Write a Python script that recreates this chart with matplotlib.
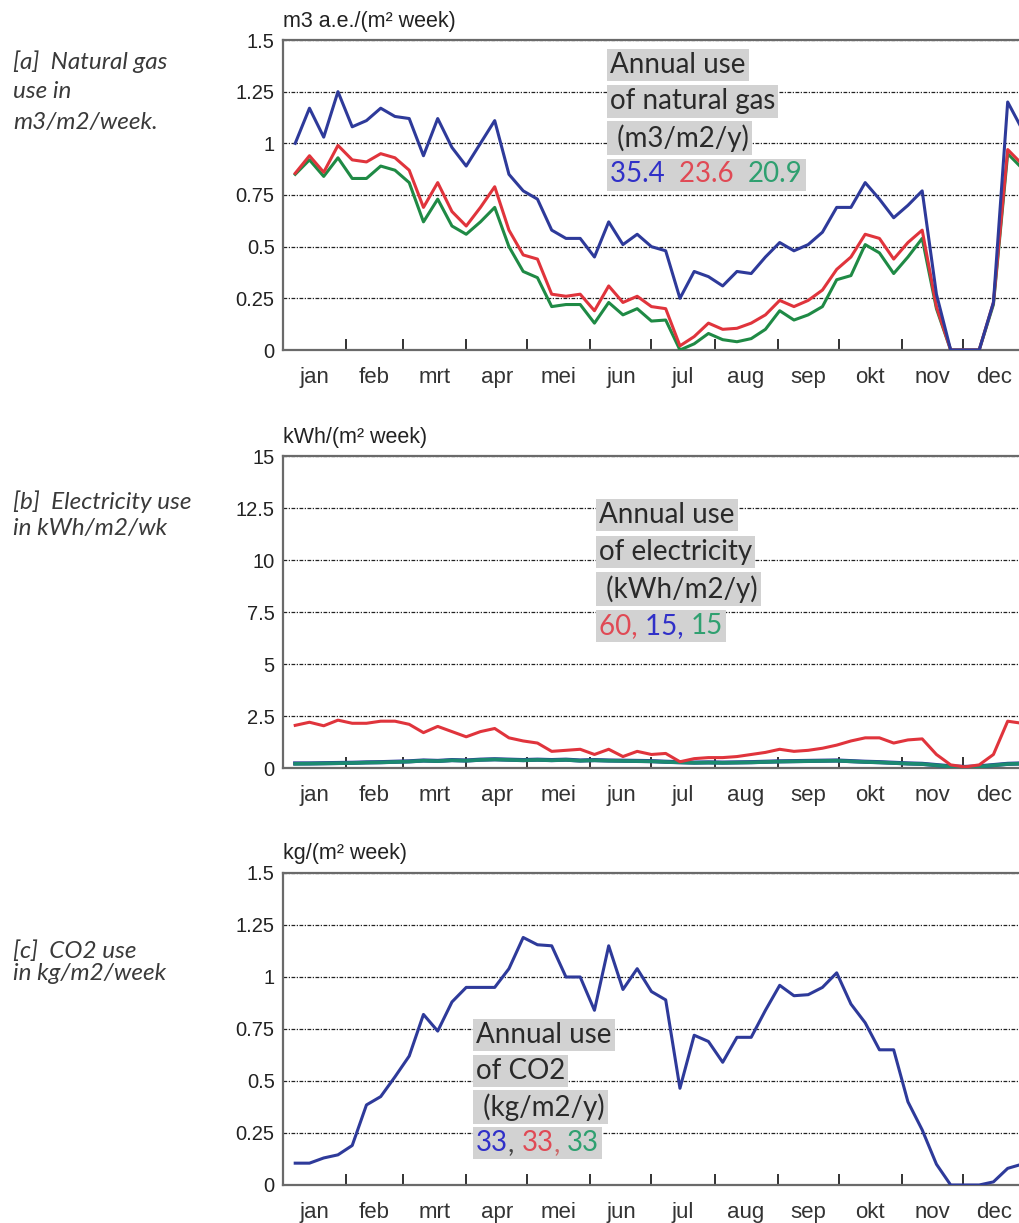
import numpy as np
import matplotlib
matplotlib.use('Agg')
import matplotlib.pyplot as plt
from matplotlib import font_manager
from matplotlib.patches import Rectangle
from matplotlib.transforms import IdentityTransform
from matplotlib.ticker import FuncFormatter

# ---- data ----
weeks = np.arange(1, 53)
months = ['jan', 'feb', 'mrt', 'apr', 'mei', 'jun', 'jul', 'aug', 'sep', 'okt', 'nov', 'dec']
month_len = [31, 28, 31, 30, 31, 30, 31, 31, 30, 31, 30, 31]

gas_blue = [1.00, 1.17, 1.03, 1.25, 1.08, 1.11, 1.17, 1.13, 1.12, 0.94,
            1.12, 0.98, 0.89, 1.00, 1.11, 0.85, 0.77, 0.73, 0.58, 0.54,
            0.54, 0.45, 0.62, 0.51, 0.56, 0.50, 0.48, 0.25, 0.38, 0.355,
            0.31, 0.38, 0.37, 0.45, 0.52, 0.48, 0.51, 0.57, 0.69, 0.69,
            0.81, 0.73, 0.64, 0.70, 0.77, 0.27, 0.0, 0.0, 0.0, 0.23,
            1.20, 1.07]
gas_red = [0.855, 0.94, 0.86, 0.99, 0.92, 0.91, 0.95, 0.93, 0.87, 0.69,
           0.81, 0.67, 0.60, 0.69, 0.79, 0.58, 0.46, 0.44, 0.27, 0.26,
           0.27, 0.19, 0.31, 0.23, 0.26, 0.21, 0.20, 0.02, 0.065, 0.13,
           0.10, 0.105, 0.13, 0.17, 0.24, 0.21, 0.24, 0.29, 0.39, 0.45,
           0.56, 0.54, 0.44, 0.52, 0.58, 0.21, 0.0, 0.0, 0.0, 0.23,
           0.97, 0.90]
gas_green = [0.85, 0.92, 0.84, 0.93, 0.83, 0.83, 0.89, 0.87, 0.81, 0.62,
             0.73, 0.60, 0.56, 0.62, 0.69, 0.50, 0.38, 0.35, 0.21, 0.22,
             0.22, 0.13, 0.23, 0.17, 0.20, 0.14, 0.145, 0.0, 0.03, 0.08,
             0.05, 0.04, 0.055, 0.10, 0.19, 0.145, 0.17, 0.21, 0.34, 0.36,
             0.51, 0.47, 0.37, 0.45, 0.54, 0.20, 0.0, 0.0, 0.0, 0.22,
             0.95, 0.88]

elec_red = [2.05, 2.20, 2.03, 2.30, 2.15, 2.15, 2.25, 2.25, 2.10, 1.70,
            2.00, 1.75, 1.50, 1.75, 1.90, 1.45, 1.30, 1.20, 0.80, 0.85,
            0.90, 0.65, 0.90, 0.55, 0.80, 0.65, 0.70, 0.30, 0.45, 0.50,
            0.50, 0.55, 0.65, 0.75, 0.90, 0.80, 0.85, 0.95, 1.10, 1.30,
            1.45, 1.45, 1.20, 1.35, 1.40, 0.65, 0.15, 0.05, 0.15, 0.65,
            2.25, 2.15]
elec_blue = [0.22, 0.22, 0.23, 0.24, 0.25, 0.27, 0.28, 0.30, 0.32, 0.36,
             0.34, 0.38, 0.36, 0.40, 0.42, 0.40, 0.38, 0.40, 0.38, 0.40,
             0.36, 0.38, 0.36, 0.35, 0.34, 0.33, 0.30, 0.28, 0.26, 0.27,
             0.26, 0.27, 0.28, 0.30, 0.32, 0.33, 0.34, 0.35, 0.36, 0.33,
             0.30, 0.28, 0.25, 0.22, 0.20, 0.14, 0.08, 0.05, 0.08, 0.14,
             0.20, 0.22]
elec_green = [0.20, 0.21, 0.22, 0.23, 0.24, 0.26, 0.27, 0.29, 0.31, 0.35,
              0.33, 0.37, 0.35, 0.39, 0.41, 0.39, 0.37, 0.39, 0.37, 0.39,
              0.35, 0.37, 0.35, 0.34, 0.33, 0.32, 0.29, 0.27, 0.25, 0.26,
              0.25, 0.26, 0.27, 0.29, 0.31, 0.32, 0.33, 0.34, 0.35, 0.32,
              0.29, 0.27, 0.24, 0.21, 0.19, 0.13, 0.07, 0.04, 0.07, 0.13,
              0.19, 0.21]

co2_blue = [0.105, 0.105, 0.13, 0.145, 0.19, 0.385, 0.425, 0.52, 0.62, 0.82,
            0.74, 0.88, 0.95, 0.95, 0.95, 1.04, 1.19, 1.155, 1.15, 1.00,
            1.00, 0.84, 1.15, 0.94, 1.04, 0.93, 0.89, 0.465, 0.72, 0.69,
            0.59, 0.71, 0.71, 0.84, 0.96, 0.91, 0.915, 0.95, 1.02, 0.87,
            0.78, 0.65, 0.65, 0.40, 0.265, 0.10, 0.0, 0.0, 0.0, 0.015,
            0.08, 0.10]

gas_totals = ['35.4  ', '23.6  ', '20.9']
elec_totals = ['60, ', '15, ', '15']
co2_totals = ['33', ', ', '33', ', ', '33']

# ---- style ----
BLUE = '#2e3a9a'
RED = '#e0343c'
GREEN = '#1f8a45'
TEAL = '#1b8a70'
NUM_BLUE = '#3030c8'
NUM_RED = '#e04a55'
NUM_GREEN = '#2fa070'
BOX = '#d2d2d2'

names = {f.name for f in font_manager.fontManager.ttflist}
tick_font = 'Liberation Sans Narrow' if 'Liberation Sans Narrow' in names else 'Liberation Sans'
note_font = 'Lato' if 'Lato' in names else 'DejaVu Sans'

W, H = 1019, 1223
fig = plt.figure(figsize=(W / 100, H / 100), dpi=100)


def fx(x):
    return x / W


def fy(y):
    return 1 - y / H


# day of year for each weekly point, month boundaries and centres
days = weeks * 7 - 1
bounds = np.cumsum(month_len)
mids = bounds - np.array(month_len) / 2


def make_axes(top, bottom, ymax, step, unit):
    ax = fig.add_axes([fx(283), fy(bottom), fx(743), (bottom - top) / H])
    ax.set_xlim(0, 365)
    ax.set_ylim(0, ymax)
    ax.set_yticks(np.arange(0, ymax + step / 2, step))
    ax.yaxis.set_major_formatter(FuncFormatter(lambda v, p: '%g' % v))
    ax.set_xticks(mids, labels=months)
    ax.set_xticks(bounds[:-1], minor=True)
    ax.tick_params(axis='x', which='major', length=0, pad=12, labelsize=16, labelcolor='#333333')
    ax.tick_params(axis='x', which='minor', direction='in', length=8, width=1.3, color='#222222')
    ax.tick_params(axis='y', length=0, pad=6, labelsize=14.5, labelcolor='#222222')
    for lab in ax.get_xticklabels() + ax.get_yticklabels():
        lab.set_family(tick_font)
    ax.grid(axis='y', color='#222222', linestyle=(0, (3, 1.2, 1, 1.2)), linewidth=0.9)
    ax.set_axisbelow(True)
    for s in ['left', 'top', 'bottom', 'right']:
        ax.spines[s].set_color('#6a6a6a')
        ax.spines[s].set_linewidth(1.6)
    fig.text(fx(283), fy(top - 19), unit, family=tick_font, fontsize=15.5,
             color='#222222', ha='left', va='center')
    return ax


number_rows = []


def note(x, y, lines, pieces, colors, step):
    # grey highlighted text block, one box per line
    kw = dict(family=note_font, fontsize=20)
    box = dict(facecolor=BOX, edgecolor='none', pad=2.2)
    for i, line in enumerate(lines):
        fig.text(fx(x), fy(y + i * step), line, color='#2a2a2a', ha='left',
                 va='center', bbox=box, zorder=5, **kw)
    # last line: coloured pieces chained one after the other
    prev = fig.text(fx(x), fy(y + len(lines) * step), pieces[0], color=colors[0],
                    ha='left', va='center', zorder=7, **kw)
    row = [prev]
    for piece, c in zip(pieces[1:], colors[1:]):
        prev = fig.add_artist(matplotlib.text.Annotation(
            piece, xy=(1, 0), xycoords=prev, color=c, ha='left', va='bottom',
            annotation_clip=False, zorder=7, **kw))
        row.append(prev)
    number_rows.append(row)


def side_label(x, ys, lines):
    for yy, line in zip(ys, lines):
        fig.text(fx(x), fy(yy), line, family=note_font, style='italic', fontsize=17.5,
                 color='#3a3a3a', ha='left', va='center')


# ---- (a) natural gas ----
ax1 = make_axes(40, 350, 1.5, 0.25, 'm3 a.e./(m\u00b2 week)')
ax1.plot(days, gas_green, color=GREEN, lw=2.2, zorder=3)
ax1.plot(days, gas_red, color=RED, lw=2.2, zorder=3)
ax1.plot(days, gas_blue, color=BLUE, lw=2.2, zorder=3)
note(610, 65, ['Annual use', 'of natural gas', ' (m3/m2/y)'], gas_totals,
     [NUM_BLUE, NUM_RED, NUM_GREEN], 36.5)
side_label(13, [62, 92, 123], ['[a]  Natural gas', 'use in', 'm3/m2/week.'])

# ---- (b) electricity ----
ax2 = make_axes(456, 768, 15, 2.5, 'kWh/(m\u00b2 week)')
ax2.plot(days, elec_blue, color=BLUE, lw=3.0, zorder=3)
ax2.plot(days, elec_green, color=TEAL, lw=2.6, zorder=3)
ax2.plot(days, elec_red, color=RED, lw=2.2, zorder=3)
note(599, 515, ['Annual use', 'of electricity', ' (kWh/m2/y)'], elec_totals,
     [NUM_RED, NUM_BLUE, NUM_GREEN], 37)
side_label(13, [502, 528], ['[b]  Electricity use', 'in kWh/m2/wk'])

# ---- (c) CO2 ----
ax3 = make_axes(873, 1185, 1.5, 0.25, 'kg/(m\u00b2 week)')
ax3.plot(days, co2_blue, color=BLUE, lw=2.2, zorder=3)
note(476, 1035, ['Annual use', 'of CO2', ' (kg/m2/y)'], co2_totals,
     [NUM_BLUE, '#444444', NUM_RED, '#cc6666', NUM_GREEN], 36)
side_label(13, [951, 973], ['[c]  CO2 use', 'in kg/m2/week'])

# grey box behind each row of coloured numbers
fig.canvas.draw()
renderer = fig.canvas.get_renderer()
pad = 3
for row in number_rows:
    ext = [t.get_window_extent(renderer) for t in row]
    x0 = min(b.x0 for b in ext)
    x1 = max(b.x1 for b in ext)
    y0 = min(b.y0 for b in ext)
    y1 = max(b.y1 for b in ext)
    fig.add_artist(Rectangle((x0 - pad, y0 - pad), x1 - x0 + 2 * pad, y1 - y0 + 2 * pad,
                             transform=IdentityTransform(), facecolor=BOX,
                             edgecolor='none', zorder=5))

fig.savefig('out.png', dpi=100, facecolor='white')
